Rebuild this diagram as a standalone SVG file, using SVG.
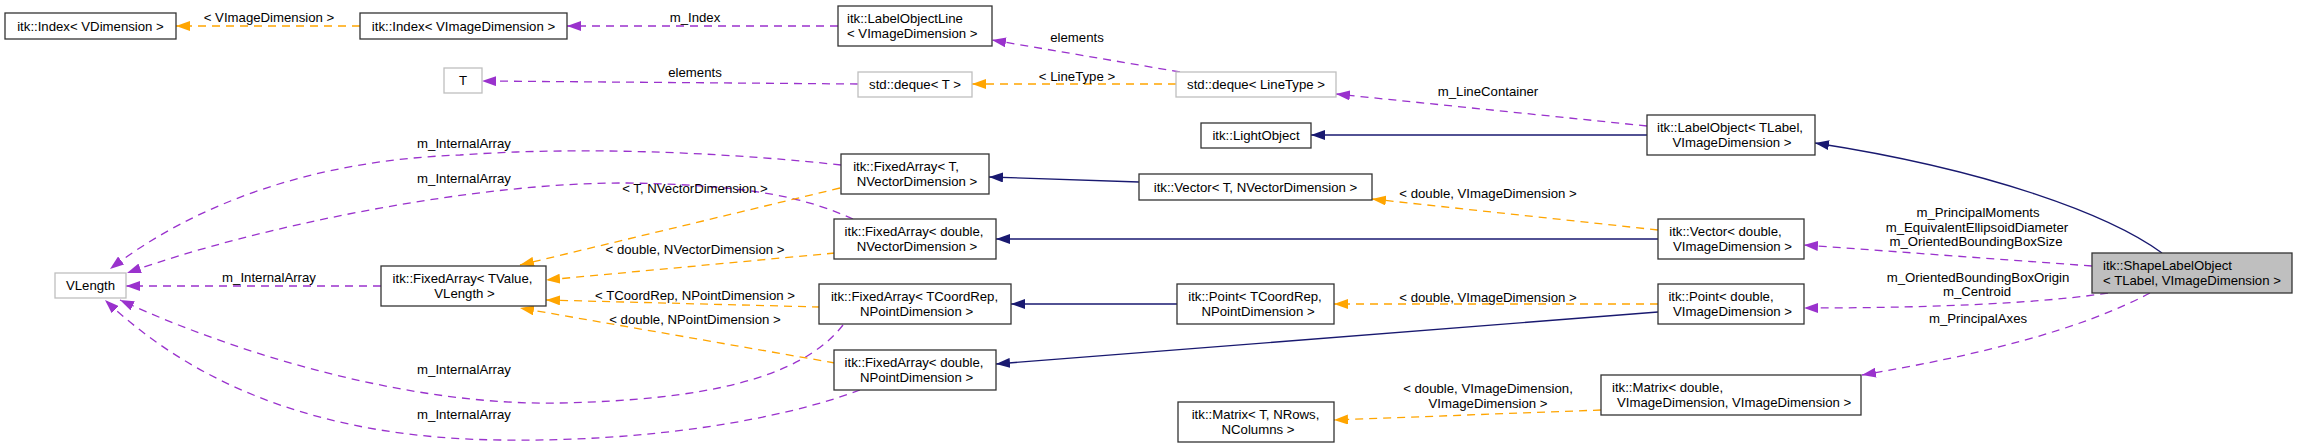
<svg xmlns="http://www.w3.org/2000/svg" width="2297" height="448" viewBox="0 0 2297 448">
<style>
text{font-family:"Liberation Sans",Arial,Helvetica,sans-serif;font-size:13.2px;fill:#000}
.c{text-anchor:middle}
.s{text-anchor:start}
.box{fill:#fff;stroke:#333;stroke-width:1.3}
.gbox{fill:#fff;stroke:#bfbfbf;stroke-width:1.3}
.sel{fill:#bfbfbf;stroke:#333;stroke-width:1.3}
.e{fill:none;stroke-width:1.3}
.nv{stroke:#191970;marker-end:url(#an)}
.pu{stroke:#9a32cd;stroke-dasharray:8,6;marker-end:url(#ap)}
.or{stroke:#ffa500;stroke-dasharray:8,6;marker-end:url(#ao)}
</style>
<defs>
<marker id="an" markerUnits="userSpaceOnUse" markerWidth="14" markerHeight="10" viewBox="0 0 14 10" refX="14" refY="5" orient="auto"><path d="M0,0 L14,5 L0,10 z" fill="#191970"/></marker>
<marker id="ap" markerUnits="userSpaceOnUse" markerWidth="14" markerHeight="10" viewBox="0 0 14 10" refX="14" refY="5" orient="auto"><path d="M0,0 L14,5 L0,10 z" fill="#9a32cd"/></marker>
<marker id="ao" markerUnits="userSpaceOnUse" markerWidth="14" markerHeight="10" viewBox="0 0 14 10" refX="14" refY="5" orient="auto"><path d="M0,0 L14,5 L0,10 z" fill="#ffa500"/></marker>
</defs>
<rect width="2297" height="448" fill="#fff"/>
<g id="connectors">
<path class="e or" d="M360,26 L176,26"/>
<text class="c" x="269" y="22">&lt; VImageDimension &gt;</text>
<path class="e pu" d="M838,26 L567,26"/>
<text class="c" x="695" y="22">m_Index</text>
<path class="e pu" d="M858,84 L482,81"/>
<text class="c" x="695" y="77">elements</text>
<path class="e pu" d="M1180,72 L992,40"/>
<text class="c" x="1077" y="42">elements</text>
<path class="e or" d="M1176,84 L972,84"/>
<text class="c" x="1077" y="81">&lt; LineType &gt;</text>
<path class="e pu" d="M1647,126 L1336,94"/>
<text class="c" x="1488" y="96">m_LineContainer</text>
<path class="e nv" d="M1647,135 L1311,135"/>
<path class="e nv" d="M2162,253 C2110,215 1990,170 1815,143"/>
<path class="e nv" d="M1139,182 L989,177"/>
<path class="e nv" d="M1658,239 L996,239"/>
<path class="e or" d="M1658,230 L1372,199"/>
<text class="c" x="1488" y="198">&lt; double, VImageDimension &gt;</text>
<path class="e nv" d="M1177,304 L1011,304"/>
<path class="e nv" d="M1658,312 L996,364"/>
<path class="e or" d="M1658,304 L1334,304"/>
<text class="c" x="1488" y="302">&lt; double, VImageDimension &gt;</text>
<path class="e or" d="M1601,410 L1334,420"/>
<text class="c" x="1488" y="393">&lt; double, VImageDimension,</text>
<text class="c" x="1488" y="408">VImageDimension &gt;</text>
<path class="e pu" d="M2092,266 L1804,245"/>
<text class="c" x="1978" y="217">m_PrincipalMoments</text>
<text class="c" x="1977" y="232">m_EquivalentEllipsoidDiameter</text>
<text class="c" x="1976" y="246">m_OrientedBoundingBoxSize</text>
<path class="e pu" d="M2108,293 C2050,302 1950,308 1804,308"/>
<text class="c" x="1978" y="282">m_OrientedBoundingBoxOrigin</text>
<text class="c" x="1977" y="296">m_Centroid</text>
<path class="e pu" d="M2150,293 C2080,330 1980,355 1862,375"/>
<text class="c" x="1978" y="323">m_PrincipalAxes</text>
<path class="e pu" d="M841,165 C750,155 600,145 460,155 C320,160 200,200 110,269"/>
<text class="c" x="464" y="148">m_InternalArray</text>
<path class="e pu" d="M853,219 C810,200 760,185 627,183 C480,182 260,225 127,273"/>
<text class="c" x="464" y="183">m_InternalArray</text>
<path class="e pu" d="M843,325 C800,380 700,400 560,403 C420,406 250,360 120,300"/>
<text class="c" x="464" y="374">m_InternalArray</text>
<path class="e pu" d="M860,390 C780,420 650,442 500,440 C330,438 200,390 105,300"/>
<text class="c" x="464" y="419">m_InternalArray</text>
<path class="e pu" d="M381,286 L126,286"/>
<text class="c" x="269" y="282">m_InternalArray</text>
<path class="e or" d="M840,188 L520,265"/>
<text class="c" x="695" y="193">&lt; T, NVectorDimension &gt;</text>
<path class="e or" d="M835,253 L546,280"/>
<text class="c" x="695" y="254">&lt; double, NVectorDimension &gt;</text>
<path class="e or" d="M820,307 L546,300"/>
<text class="c" x="695" y="300">&lt; TCoordRep, NPointDimension &gt;</text>
<path class="e or" d="M835,363 L520,308"/>
<text class="c" x="695" y="324">&lt; double, NPointDimension &gt;</text>
</g>
<g id="n_index_vdim"><rect class="box" x="5" y="13" width="171" height="26"/><text class="c" x="90.5" y="30.7">itk::Index&lt; VDimension &gt;</text></g>
<g id="n_index_vimg"><rect class="box" x="360" y="13" width="207" height="26"/><text class="c" x="463.5" y="30.7">itk::Index&lt; VImageDimension &gt;</text></g>
<g id="n_labelobjectline"><rect class="box" x="838" y="6" width="154" height="40"/><text class="s" x="847" y="23">itk::LabelObjectLine</text><text class="s" x="847" y="38">&lt; VImageDimension &gt;</text></g>
<g id="n_T"><rect class="gbox" x="444" y="68" width="38" height="25"/><text class="c" x="463" y="85.2">T</text></g>
<g id="n_deque_T"><rect class="gbox" x="858" y="72" width="114" height="25"/><text class="c" x="915" y="89.2">std::deque&lt; T &gt;</text></g>
<g id="n_deque_LT"><rect class="gbox" x="1176" y="72" width="160" height="25"/><text class="c" x="1256" y="89.2">std::deque&lt; LineType &gt;</text></g>
<g id="n_lightobject"><rect class="box" x="1201" y="123" width="110" height="25"/><text class="c" x="1256" y="140.2">itk::LightObject</text></g>
<g id="n_labelobject"><rect class="box" x="1647" y="115" width="168" height="40"/><text class="c" x="1730" y="132">itk::LabelObject&lt; TLabel,</text><text class="c" x="1732" y="147">VImageDimension &gt;</text></g>
<g id="n_fa_T_NV"><rect class="box" x="841" y="154" width="148" height="40"/><text class="c" x="906" y="171">itk::FixedArray&lt; T,</text><text class="c" x="917" y="186">NVectorDimension &gt;</text></g>
<g id="n_fa_d_NV"><rect class="box" x="834" y="219" width="162" height="40"/><text class="c" x="914" y="236">itk::FixedArray&lt; double,</text><text class="c" x="917" y="251">NVectorDimension &gt;</text></g>
<g id="n_fa_TC_NP"><rect class="box" x="819" y="284" width="192" height="40"/><text class="c" x="914.5" y="301">itk::FixedArray&lt; TCoordRep,</text><text class="c" x="916.5" y="316">NPointDimension &gt;</text></g>
<g id="n_fa_d_NP"><rect class="box" x="834" y="350" width="162" height="40"/><text class="c" x="914" y="367">itk::FixedArray&lt; double,</text><text class="c" x="916.5" y="382">NPointDimension &gt;</text></g>
<g id="n_fa_TValue"><rect class="box" x="381" y="266" width="165" height="40"/><text class="c" x="462.5" y="283">itk::FixedArray&lt; TValue,</text><text class="c" x="464.5" y="298">VLength &gt;</text></g>
<g id="n_vlength"><rect class="gbox" x="55" y="273" width="71" height="25"/><text class="c" x="90.5" y="290.2">VLength</text></g>
<g id="n_vector_T"><rect class="box" x="1139" y="174" width="233" height="26"/><text class="c" x="1255.5" y="191.7">itk::Vector&lt; T, NVectorDimension &gt;</text></g>
<g id="n_vector_d"><rect class="box" x="1658" y="219" width="146" height="40"/><text class="c" x="1725.5" y="236">itk::Vector&lt; double,</text><text class="c" x="1732.5" y="251">VImageDimension &gt;</text></g>
<g id="n_point_TC"><rect class="box" x="1177" y="284" width="157" height="40"/><text class="c" x="1255" y="301">itk::Point&lt; TCoordRep,</text><text class="c" x="1258" y="316">NPointDimension &gt;</text></g>
<g id="n_point_d"><rect class="box" x="1658" y="284" width="146" height="40"/><text class="c" x="1721" y="301">itk::Point&lt; double,</text><text class="c" x="1732.5" y="316">VImageDimension &gt;</text></g>
<g id="n_matrix_T"><rect class="box" x="1178" y="402" width="156" height="40"/><text class="c" x="1255.5" y="419">itk::Matrix&lt; T, NRows,</text><text class="c" x="1258" y="434">NColumns &gt;</text></g>
<g id="n_matrix_d"><rect class="box" x="1601" y="375" width="260" height="40"/><text class="s" x="1612" y="392">itk::Matrix&lt; double,</text><text class="s" x="1617" y="407">VImageDimension, VImageDimension &gt;</text></g>
<g id="n_shape"><rect class="sel" x="2092" y="253" width="200" height="40"/><text class="s" x="2103" y="270">itk::ShapeLabelObject</text><text class="s" x="2103" y="285">&lt; TLabel, VImageDimension &gt;</text></g>
</svg>
